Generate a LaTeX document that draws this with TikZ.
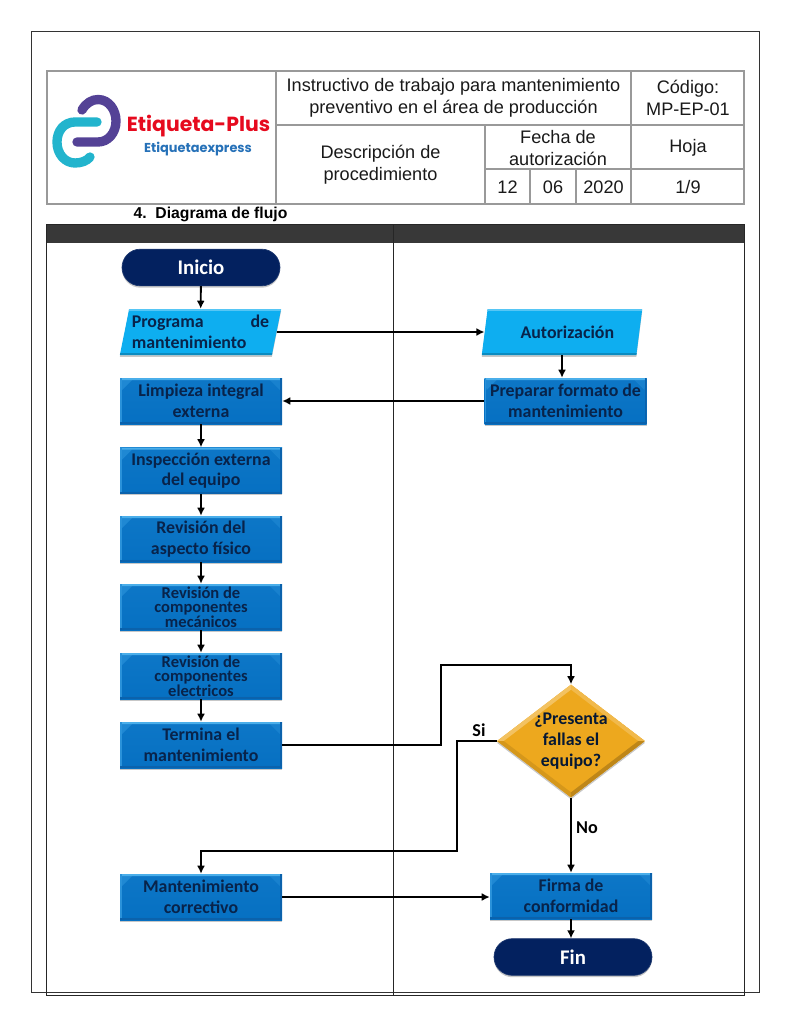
\documentclass[tikz,border=0pt]{standalone}
\usepackage{fontspec}
\setmainfont{Liberation Sans}
\newfontfamily\flujofont{Carlito}
\newfontfamily\logofont{Poppins}
\usetikzlibrary{arrows.meta,shapes.geometric,shapes.misc,shadows}

\definecolor{cajaazul}{HTML}{0670C2}
\definecolor{cajaclaro}{HTML}{4AAEEA}
\definecolor{cajamedio}{HTML}{2A92DA}
\definecolor{cajaoscuro}{HTML}{0B62AC}
\definecolor{cian}{HTML}{0EAEF0}
\definecolor{marino}{HTML}{03215F}
\definecolor{ambar}{HTML}{EDA81E}
\definecolor{textoazul}{HTML}{08234A}
\definecolor{banda}{HTML}{383838}

\tikzset{
    sombra/.style={drop shadow={shadow xshift=0pt,shadow yshift=-1.4pt,opacity=.22,fill=black}},
    proceso/.style={rectangle,minimum width=121.5pt,minimum height=34.5pt,inner sep=0pt,
        top color=cajaazul!80!cajamedio,bottom color=cajaazul,sombra,
        align=center,font=\flujofont\fontsize{13.4}{15.4}\bfseries\selectfont,text=textoazul,
        path picture={
            \def\pb{path picture bounding box}
            \fill[cajamedio!70!cajaazul] (\pb.north west) -- ([shift={(9pt,-1.6pt)}]\pb.north west) -- ([shift={(1.6pt,-9pt)}]\pb.north west) -- cycle;
            \fill[cajamedio!50!cajaazul] (\pb.north east) -- ([shift={(-9pt,-1.6pt)}]\pb.north east) -- ([shift={(-1.6pt,-9pt)}]\pb.north east) -- cycle;
            \fill[cajaclaro] (\pb.north west) -- (\pb.north east) -- ([shift={(-1.6pt,-1.6pt)}]\pb.north east) -- ([shift={(1.6pt,-1.6pt)}]\pb.north west) -- cycle;
            \fill[cajamedio] (\pb.north west) rectangle ([xshift=1.2pt]\pb.south west);
            \fill[cajaoscuro] (\pb.north east) rectangle ([xshift=-1.2pt]\pb.south east);
            \fill[cajaoscuro] (\pb.south west) rectangle ([yshift=1.2pt]\pb.south east);
        }},
    procesochico/.style={proceso,font=\flujofont\fontsize{12.4}{11}\bfseries\selectfont},
    datos/.style={trapezium,trapezium left angle=75,trapezium right angle=105,trapezium stretches=true,
        minimum width=121pt,minimum height=34.5pt,inner sep=0pt,fill=cian,sombra,
        align=left,font=\flujofont\fontsize{13.4}{15.4}\bfseries\selectfont,text=textoazul,
        path picture={
            \def\pb{path picture bounding box}
            \fill[cian!70!white] (\pb.north west) rectangle ([yshift=-1.6pt]\pb.north east);
            \fill[cian!80!black] (\pb.south west) rectangle ([yshift=1.4pt]\pb.south east);
        }},
    terminal/.style={rounded rectangle,minimum width=118.5pt,minimum height=27.5pt,inner sep=0pt,
        fill=marino,draw=marino!90!white,line width=.5pt,sombra,
        font=\flujofont\fontsize{15.6}{16}\bfseries\selectfont,text=white},
    decision/.style={diamond,aspect=1.31,minimum width=110pt,minimum height=84pt,inner sep=0pt,fill=ambar,sombra,
        align=center,font=\flujofont\fontsize{13.4}{16}\bfseries\selectfont,text=textoazul!70!black,
        path picture={
            \def\pb{path picture bounding box}
            \fill[ambar!70!white] (\pb.north) -- (\pb.west) -- ([xshift=5pt]\pb.west) -- ([yshift=-3.8pt]\pb.north) -- cycle;
            \fill[ambar!80!white] (\pb.north) -- (\pb.east) -- ([xshift=-5pt]\pb.east) -- ([yshift=-3.8pt]\pb.north) -- cycle;
            \fill[ambar!90!black] (\pb.south) -- (\pb.west) -- ([xshift=5pt]\pb.west) -- ([yshift=3.8pt]\pb.south) -- cycle;
            \fill[ambar!80!black] (\pb.south) -- (\pb.east) -- ([xshift=-5pt]\pb.east) -- ([yshift=3.8pt]\pb.south) -- cycle;
        }},
    flecha/.style={line width=1.4pt,-{Latex[length=6pt,width=6pt]}},
    celda/.style={draw=black!75,line width=.5pt,double=black!40,double distance=1.1pt},
    textocelda/.style={inner sep=0pt,align=center,font=\fontsize{13.6}{16.4}\selectfont,text=black!90},
    etiqueta/.style={inner sep=0pt,font=\flujofont\fontsize{13.6}{14}\bfseries\selectfont}
}

\begin{document}
\begin{tikzpicture}[x=0.75pt,y=0.75pt,yscale=-1,xscale=1]
    \useasboundingbox (0,0) rectangle (791,1024);

    %Shape: Page border
    \draw [black!80,line width=.6pt] (31,31) rectangle (759.5,992.5);

    %Shape: Header table
    \draw [celda] (47,71) rectangle (276,204);
    \draw [celda] (276,71) rectangle (631,125);
    \draw [celda] (631,71) rectangle (744,125);
    \draw [celda] (276,125) rectangle (485,204);
    \draw [celda] (485,125) rectangle (631,169);
    \draw [celda] (631,125) rectangle (744,169);
    \draw [celda] (485,169) rectangle (530,204);
    \draw [celda] (530,169) rectangle (576,204);
    \draw [celda] (576,169) rectangle (631,204);
    \draw [celda] (631,169) rectangle (744,204);

    %Curve Lines: Logo
    \draw [color={rgb, 255:red, 84; green, 66; blue, 150 },line width=7pt,line cap=round] (82,110) .. controls (86,103) and (92,99.5) .. (98,99.5) .. controls (109,99.5) and (116,110) .. (116,121) .. controls (116,133) and (108,142) .. (98,142) -- (77,142);
    \draw [color={rgb, 255:red, 34; green, 180; blue, 205 },line width=7pt,line cap=round] (97,122) -- (75,122) .. controls (64,122) and (57,131) .. (57,142) .. controls (57,154) and (65,163) .. (75,163) .. controls (81,163) and (87,161) .. (90,157);

    % Text Node
    \node (logotitulo) at (198.5,126) [inner sep=0pt,text={rgb,255:red,230;green,10;blue,30},font=\logofont\fontsize{15.3}{18}\bfseries\selectfont] {Etiqueta-Plus};
    % Text Node
    \node (logosub) at (198,149) [inner sep=0pt,text={rgb,255:red,38;green,113;blue,184},font=\logofont\fontsize{9.7}{11}\bfseries\selectfont] {Etiquetaexpress};
    % Text Node
    \node (titulo) at (453.5,98) [textocelda] {Instructivo de trabajo para mantenimiento\\preventivo en el área de producción};
    \node (codigo) at (688,98) [textocelda] {Código:\\MP-EP-01};
    \node (descripcion) at (380.5,164.5) [textocelda] {Descripción de\\procedimiento};
    \node (fecha) at (558,148) [textocelda] {Fecha de\\autorización};
    \node (hoja) at (688,148) [textocelda] {Hoja};
    \node (dia) at (507.5,187) [textocelda] {12};
    \node (mes) at (553,187) [textocelda] {06};
    \node (anio) at (603.5,187) [textocelda] {2020};
    \node (pagina) at (688,187) [textocelda] {1/9};
    \node (seccion) at (210.5,214) [inner sep=0pt,font=\fontsize{11.8}{12}\bfseries\selectfont] {4.\ \ Diagrama de flujo};

    %Shape: Swimlanes
    \fill [banda] (46,224) rectangle (745,243);
    \draw [black!85,line width=.7pt] (46,224) rectangle (744.5,995.5);
    \draw [black!85,line width=.7pt] (393,224) -- (393,995.5);

    %Shape: Flow nodes, left lane
    \node (inicio) at (201,267.5) [terminal] {Inicio};
    \node (programa) at (200.5,332) [datos] {\hbox to 103pt{Programa\hfill de}\\mantenimiento};
    \node (limpieza) at (201,401) [proceso] {Limpieza integral\\externa};
    \node (inspeccion) at (201,470.5) [proceso] {Inspección externa\\del equipo};
    \node (aspecto) at (201,539) [proceso] {Revisión del\\aspecto físico};
    \node (mecanicos) at (201,607) [procesochico] {Revisión de\\componentes\\mecánicos};
    \node (electricos) at (201,676) [procesochico] {Revisión de\\componentes\\electricos};
    \node (termina) at (201,745) [proceso] {Termina el\\mantenimiento};
    \node (correctivo) at (201,897) [proceso] {Mantenimiento\\correctivo};

    %Shape: Flow nodes, right lane
    \node (autorizacion) at (562,332) [datos,trapezium left angle=72,trapezium right angle=108,align=center] {\hspace*{8pt}Autorización};
    \node (preparar) at (565.5,401) [proceso] {Preparar formato de\\mantenimiento};
    \node (fallas) at (571,741) [decision] {¿Presenta\\fallas el\\equipo?};
    \node (firma) at (571,896) [proceso] {Firma de\\conformidad};
    \node (fin) at (573,957) [terminal] {Fin};

    \coordinate (subida) at (441,745);
    \coordinate (arriba) at (441,665);
    \coordinate (bajada) at (457,741);
    \coordinate (abajo) at (457,851);

    %Straight Lines
    \draw [flecha] (inicio) -- (programa);
    \draw [flecha] (programa) -- (autorizacion);
    \draw [flecha] (autorizacion.south -| 562,0) -- (preparar.north -| 562,0);
    \draw [flecha] (preparar.west) -- (limpieza.east |- preparar.west);
    \draw [flecha] (limpieza) -- (inspeccion);
    \draw [flecha] (inspeccion) -- (aspecto);
    \draw [flecha] (aspecto) -- (mecanicos);
    \draw [flecha] (mecanicos) -- (electricos);
    \draw [flecha] (electricos) -- (termina);
    \draw [flecha] (termina.east) -- (subida) -- (arriba) -| (fallas.north);
    \draw [flecha] (fallas.west) -- (bajada) -- (abajo) -| (correctivo.north);
    \draw [flecha] (fallas.south) -- (fallas.south |- firma.north);
    \draw [flecha] (correctivo.east) -- (firma.west |- correctivo.east);
    \draw [flecha] (firma.south -| fallas.south) -- (fin.north -| fallas.south);

    % Text Node
    \node (si) at (479,730) [etiqueta] {Si};
    \node (no) at (587,828) [etiqueta] {No};

\end{tikzpicture}
\end{document}
